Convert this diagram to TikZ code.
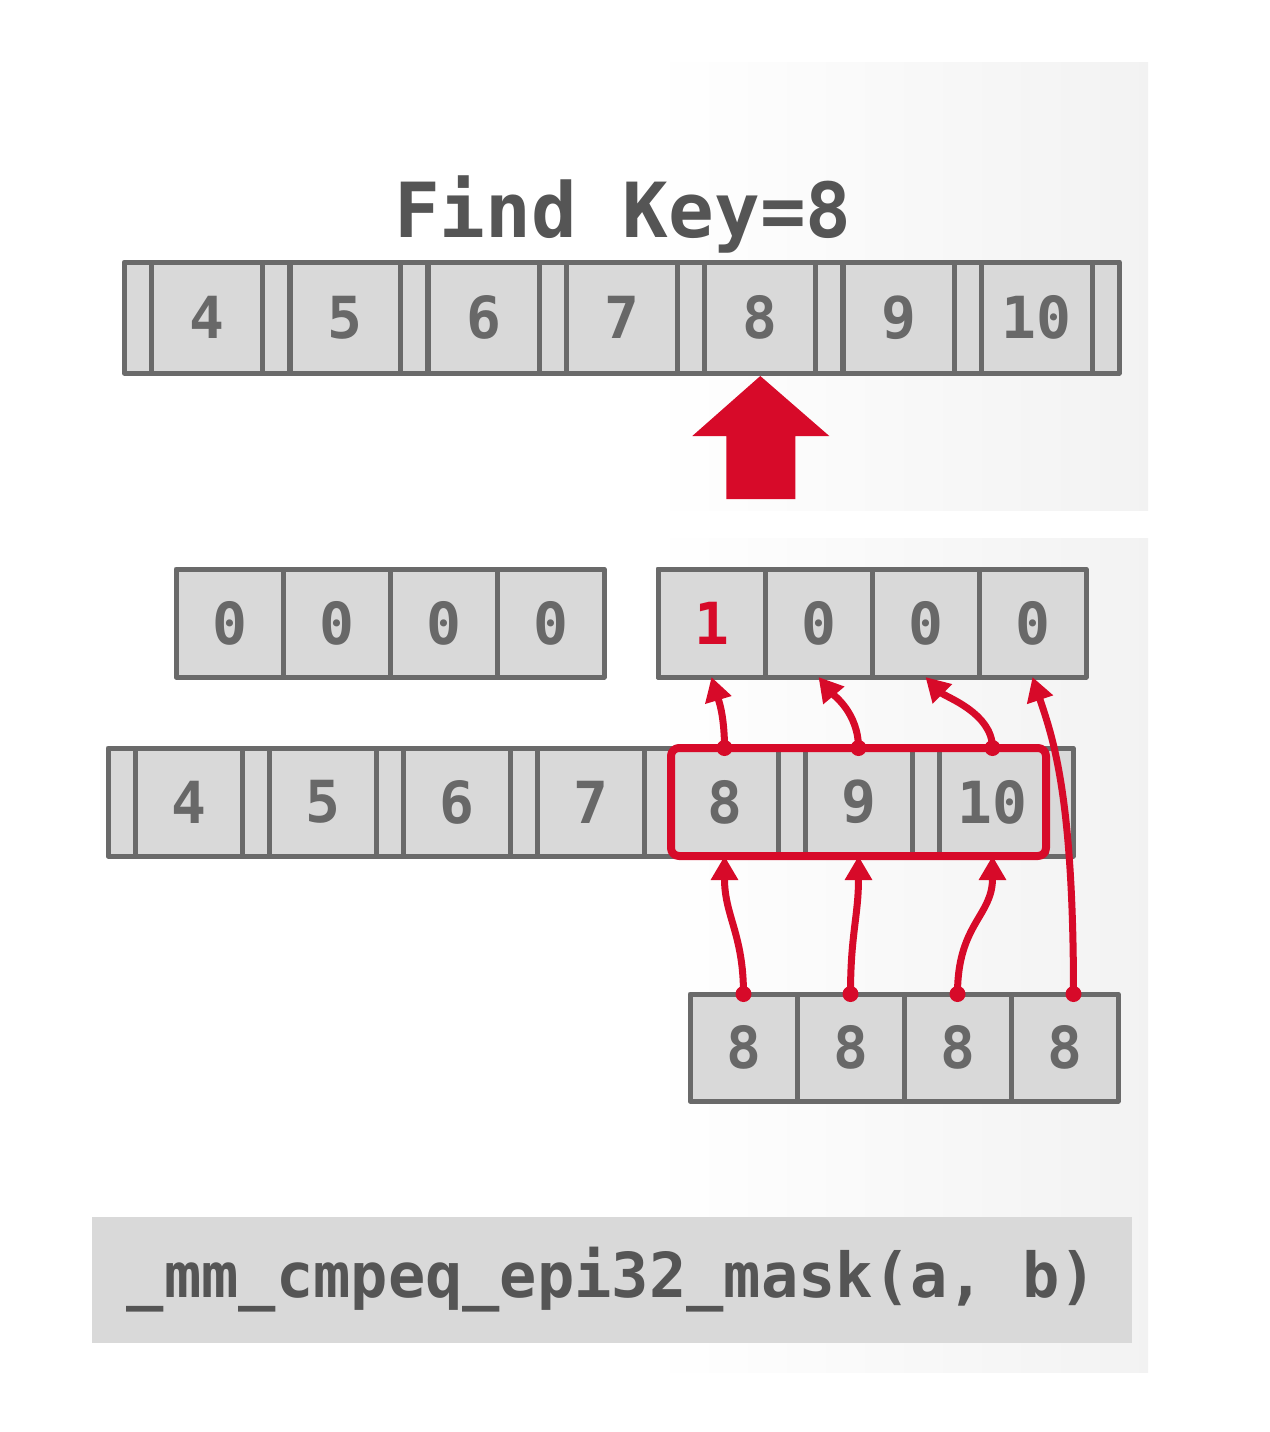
\documentclass[tikz,border=0pt]{standalone}
\usepackage{fontspec}
\setmonofont{DejaVu Sans Mono}
\usetikzlibrary{arrows.meta}
\definecolor{cellfill}{HTML}{D9D9D9}
\definecolor{cellline}{HTML}{6A6A6A}
\definecolor{celltext}{HTML}{686868}
\definecolor{keyred}{HTML}{D70A29}
\definecolor{titlegray}{HTML}{555555}
\begin{document}
\begin{tikzpicture}[x=0.5pt, y=-0.5pt, line join=round, line cap=round, >={Triangle[width=13pt,length=12pt]},
	cell/.style={draw=cellline, fill=cellfill, line width=2.5pt, inner sep=0pt, outer sep=0pt, minimum height=54pt, minimum width=53.5pt, text=celltext, font=\ttfamily\bfseries\fontsize{29}{29}\selectfont},
	gapcell/.style={cell, minimum width=13.5pt},
	redline/.style={draw=keyred, line width=3.5pt},
	dot/.style={fill=keyred}]
	\useasboundingbox (0,0) rectangle (1270,1432);
	% panels
	\shade[left color=white, right color=black!5] (650,62) rectangle (1148,510);
	\shade[left color=white, right color=black!5] (650,538) rectangle (1148,1372);
	\node[anchor=base, text=titlegray, font=\ttfamily\bfseries\fontsize{38}{38}\selectfont] (title) at (623,237) {Find Key=8};
	% sorted keys
	\foreach \v [count=\i from 0] in {4,...,10}{
		\node[gapcell, minimum height=55.5pt] (tg\i) at ({137.75+\i*138.3},317.5) {};
		\node[cell, minimum height=55.5pt, minimum width=55.4pt] (t\i) at ({207.1+\i*138.3},317.5) {\v};
	}
	\node[gapcell, minimum height=55.5pt] (tg7) at ({137.75+7*138.3},317.5) {};
	\fill[keyred] ([yshift=-1.5pt]t4.south) --++(69,60) --++(-34,0) --++(0,63) --++(-69,0) --++(0,-63) --++(-34,0) -- cycle;
	% masks
	\foreach \i in {0,...,3}{
		\node[cell] (l\i) at ({229.5+\i*107},623) {0};
		\node[cell] (r\i) at ({711.5+\i*107},623) {0};
	}
	\node[cell, text=keyred] at (r0) {1};
	% loaded keys
	\foreach \v [count=\i from 0] in {4,...,10}{
		\node[gapcell] (mg\i) at ({121.5+\i*134},802) {};
		\node[cell] (m\i) at ({188.5+\i*134},802) {\v};
	}
	\node[gapcell] (mg7) at ({121.5+7*134},802) {};
	\draw[redline, line width=4pt, rounded corners=4pt] (m4.north west) rectangle (m6.south east);
	% broadcast key
	\foreach \i in {0,...,3}
		\node[cell, minimum height=53.5pt] (b\i) at ({743.5+\i*107},1047.5) {8};
	\coordinate (b3top) at ([xshift=4.5pt]b3.north);
	\draw[redline,->] (b0.north) .. controls +(0,-60) and +(0,60) .. (m4.south);
	\draw[redline,->] (b1.north) .. controls +(0,-60) and +(0,60) .. (m5.south);
	\draw[redline,->] (b2.north) .. controls +(0,-70) and +(0,60) .. (m6.south);
	\draw[redline,->] (b3top) .. controls +(0,-200) and +(20,60) .. (r3.south);
	\draw[redline,->] (m4.north) .. controls +(0,-35) and +(6,20) .. (r0.south);
	\draw[redline,->] (m5.north) .. controls +(0,-35) and +(15,18) .. (r1.south);
	\draw[redline,->] (m6.north) .. controls +(0,-35) and +(20,20) .. (r2.south);
	\foreach \d in {m4.north,m5.north,m6.north,b0.north,b1.north,b2.north,b3top}
		\fill[dot] (\d) circle (4pt);
	% intrinsic
	\node[fill=cellfill, minimum width=520pt, minimum height=63pt, inner sep=0pt, text=titlegray, font=\ttfamily\bfseries\fontsize{31}{31}\selectfont] (code) at (612,1280) {\_mm\_cmpeq\_epi32\_mask(a, b)};
\end{tikzpicture}
\end{document}
